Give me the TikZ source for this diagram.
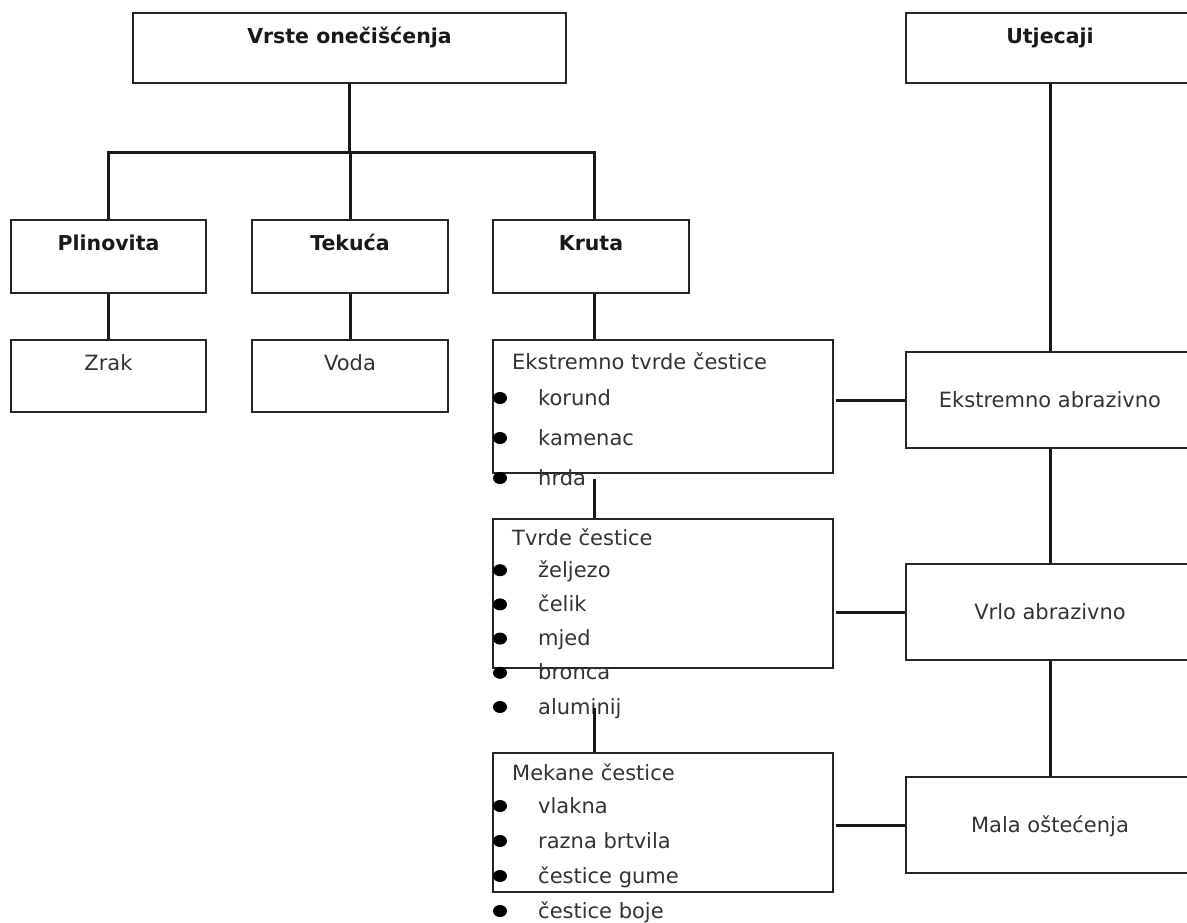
\documentclass[tikz,border=0pt]{standalone}
\usepackage{fontspec}
\setmainfont{DejaVu Sans}
\usetikzlibrary{calc}

\begin{document}
\begin{tikzpicture}[x=1pt,y=-1pt,
  box/.style={draw=black!85,line width=2.4pt,inner sep=0pt},
  link/.style={draw=black!90,line width=3pt},
  head/.style={font=\fontsize{20.5}{24}\selectfont\bfseries,text=black!90,inner sep=0pt,text height=14pt,text depth=0pt},
  txt/.style={font=\fontsize{21}{25}\selectfont,text=black!80,inner sep=0pt,text height=14pt,text depth=0pt},
  item/.style={txt,anchor=west},
  dot/.style={fill=black}]
\useasboundingbox (0,0) rectangle (1187,923);
\node[box,minimum width=433pt,minimum height=70pt] (vrste) at (349.5,48) {};
\node[box,minimum width=288pt,minimum height=70pt] (utj) at (1050,48) {};
\node[box,minimum width=195pt,minimum height=73pt] (plin) at (108.5,256.5) {};
\node[box,minimum width=196pt,minimum height=73pt] (tek) at (350,256.5) {};
\node[box,minimum width=196pt,minimum height=73pt] (kruta) at (591,256.5) {};
\node[box,minimum width=195pt,minimum height=72pt] (zrak) at (108.5,376) {};
\node[box,minimum width=196pt,minimum height=72pt] (voda) at (350,376) {};
\node[box,minimum width=340pt,minimum height=133pt] (etc) at (663,406.5) {};
\node[box,minimum width=340pt,minimum height=149pt] (tc) at (663,593.5) {};
\node[box,minimum width=340pt,minimum height=139pt] (mc) at (663,822.5) {};
\node[box,txt,minimum width=288pt,minimum height=96pt] (ea) at (1050,400) {Ekstremno abrazivno};
\node[box,txt,minimum width=288pt,minimum height=96pt] (va) at (1050,612) {Vrlo abrazivno};
\node[box,txt,minimum width=288pt,minimum height=96pt] (mo) at (1050,825) {Mala oštećenja};
\node[head] (vrste-t) at (349.5,37) {Vrste onečišćenja};
\node[head] (utj-t) at (1050,37) {Utjecaji};
\node[head] (plin-t) at (108.5,243) {Plinovita};
\node[head] (tek-t) at (350,243) {Tekuća};
\node[head] (kruta-t) at (591,243) {Kruta};
\node[txt] (zrak-t) at (108.5,363) {Zrak};
\node[txt] (voda-t) at (350,363) {Voda};
\node[item] (etc-t) at (512,362) {Ekstremno tvrde čestice};
\node[item] (tc-t) at (512,538) {Tvrde čestice};
\node[item] (mc-t) at (512,773) {Mekane čestice};
\foreach \t [count=\i] in {korund,kamenac,hrda}
  {\fill[dot] (500,358+40*\i) ellipse (7 and 6);
   \node[item] (etc-\i) at (538,358+40*\i) {\t};}
\foreach \t [count=\i] in {željezo,čelik,mjed,bronca,aluminij}
  {\fill[dot] (500,536+34.2*\i) ellipse (7 and 6);
   \node[item] (tc-\i) at (538,536+34.2*\i) {\t};}
\foreach \t [count=\i] in {vlakna,razna brtvila,čestice gume,čestice boje}
  {\fill[dot] (500,771+35*\i) ellipse (7 and 6);
   \node[item] (mc-\i) at (538,771+35*\i) {\t};}
\coordinate (bus) at (349.5,153);
\coordinate (kx) at (594,153);
\draw[link] (vrste.south) -- (bus);
\draw[link] (plin.north) |- (kx) -- (kx |- kruta.north);
\draw[link] (tek.north) -- (tek.north |- bus);
\draw[link] (plin.south) -- (zrak.north);
\draw[link] (tek.south) -- (voda.north);
\draw[link] (kx |- kruta.south) -- (kx |- etc.north);
\draw[link] ($(kx |- etc.south)+(0,5)$) -- (kx |- tc.north);
\draw[link] ($(kx |- tc.south)+(0,39)$) -- (kx |- mc.north);
\draw[link] (utj.south) -- (ea.north);
\draw[link] (ea.south) -- (va.north);
\draw[link] (va.south) -- (mo.north);
\draw[link] (ea.west) -- ($(ea.west -| etc.east)+(2,0)$);
\draw[link] (va.west) -- ($(va.west -| tc.east)+(2,0)$);
\draw[link] (mo.west) -- ($(mo.west -| mc.east)+(2,0)$);
\end{tikzpicture}
\end{document}
